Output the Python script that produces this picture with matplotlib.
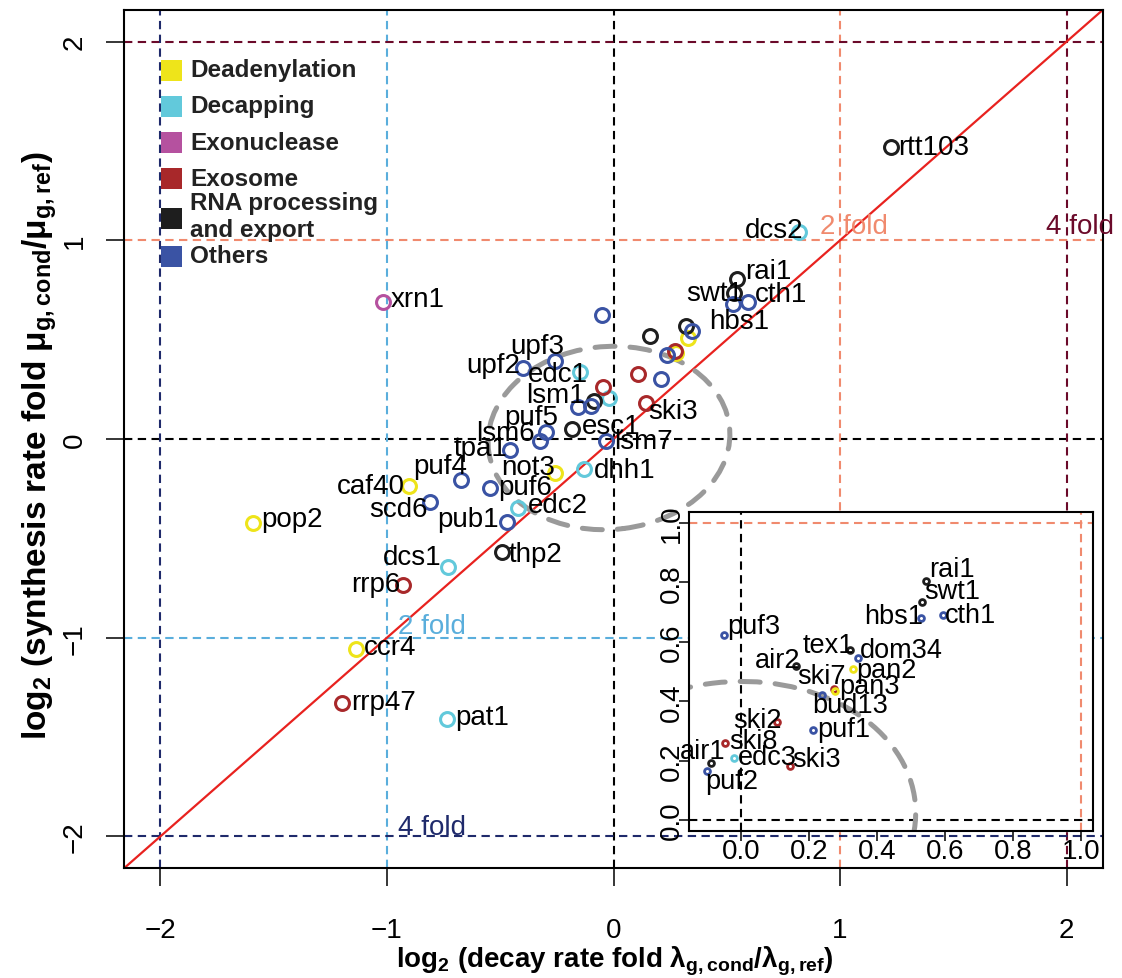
import matplotlib
matplotlib.use('Agg')
import matplotlib.pyplot as plt
from matplotlib.patches import Ellipse, Rectangle
from matplotlib.transforms import Affine2D

plt.rcParams['font.family'] = ['Liberation Sans', 'DejaVu Sans']
plt.rcParams['mathtext.fontset'] = 'custom'
plt.rcParams['mathtext.rm'] = 'Liberation Sans:bold'
plt.rcParams['mathtext.default'] = 'rm'

# log2 fold changes per gene (decay, synthesis) and functional group
genes = ['xrn1', 'upf3', 'upf2', 'edc1', 'lsm1', 'esc1', 'puf5', 'lsm6', 'lsm7', 'tpa1',
         'not3', 'dhh1', 'puf4', 'puf6', 'caf40', 'scd6', 'edc2', 'pub1', 'thp2', 'dcs1',
         'pop2', 'rrp6', 'ccr4', 'rrp47', 'pat1', 'rtt103', 'dcs2', 'rai1', 'swt1', 'hbs1',
         'cth1', 'puf3', 'tex1', 'dom34', 'pan2', 'air2', 'ski7', 'pan3', 'bud13', 'puf1',
         'ski2', 'ski8', 'edc3', 'ski3', 'air1', 'puf2']
decay_fold = [-1.017, -0.259, -0.399, -0.149, -0.156, -0.185, -0.296, -0.325, -0.031, -0.458,
              -0.259, -0.130, -0.674, -0.546, -0.904, -0.811, -0.421, -0.472, -0.494, -0.730,
              -1.591, -0.929, -1.135, -1.198, -0.733, 1.224, 0.818, 0.545, 0.532, 0.528,
              0.595, -0.049, 0.320, 0.345, 0.328, 0.162, 0.273, 0.277, 0.238, 0.211,
              0.107, -0.048, -0.020, 0.144, -0.088, -0.100]
synth_fold = [0.689, 0.394, 0.356, 0.336, 0.160, 0.050, 0.034, -0.008, -0.008, -0.054,
              -0.171, -0.153, -0.207, -0.249, -0.235, -0.316, -0.349, -0.420, -0.568, -0.646,
              -0.425, -0.735, -1.058, -1.327, -1.407, 1.468, 1.039, 0.806, 0.733, 0.680,
              0.690, 0.623, 0.571, 0.545, 0.510, 0.517, 0.442, 0.433, 0.421, 0.303,
              0.329, 0.260, 0.208, 0.183, 0.193, 0.165]
group = ['Exonuclease', 'Others', 'Others', 'Decapping', 'Others', 'RNA', 'Others', 'Others', 'Others', 'Others',
         'Deadenylation', 'Decapping', 'Others', 'Others', 'Deadenylation', 'Others', 'Decapping', 'Others', 'RNA', 'Decapping',
         'Deadenylation', 'Exosome', 'Deadenylation', 'Exosome', 'Decapping', 'RNA', 'Decapping', 'RNA', 'RNA', 'Others',
         'Others', 'Others', 'RNA', 'Others', 'Deadenylation', 'RNA', 'Exosome', 'Deadenylation', 'Others', 'Others',
         'Exosome', 'Exosome', 'Decapping', 'Exosome', 'RNA', 'Others']

group_keys = ['Deadenylation', 'Decapping', 'Exonuclease', 'Exosome', 'RNA', 'Others']
group_labels = ['Deadenylation', 'Decapping', 'Exonuclease', 'Exosome',
                'RNA processing\nand export', 'Others']
group_colors = ['#EEE41A', '#62C9DB', '#B5519F', '#A8282A', '#1E1E1E', '#3A53A4']

# genes shown in the zoomed panel
inset_genes = ['rai1', 'swt1', 'hbs1', 'cth1', 'puf3', 'tex1', 'dom34', 'air2', 'pan2', 'ski7',
               'pan3', 'bud13', 'puf1', 'ski2', 'ski8', 'edc3', 'ski3', 'air1', 'puf2']

# label placement: alignment and offset (pixels, up positive) from the point
main_lab = {
    'xrn1': ('left', 8, 3), 'upf3': ('center', -18, 15), 'upf2': ('right', -3, 3),
    'edc1': ('right', 8, -2), 'lsm1': ('right', 7, 12), 'esc1': ('left', 10, 3),
    'puf5': ('right', 12, 15), 'lsm6': ('right', -5, 8), 'lsm7': ('left', 8, 0),
    'tpa1': ('right', -2, 2), 'not3': ('right', 0, 6), 'dhh1': ('left', 10, -1),
    'puf4': ('right', 6, 14), 'puf6': ('left', 8, 1), 'caf40': ('right', -4, 0),
    'scd6': ('right', -2, -7), 'edc2': ('left', 10, 3), 'pub1': ('right', -8, 3),
    'thp2': ('left', 7, -2), 'dcs1': ('right', -7, 10), 'pop2': ('left', 8, 4),
    'rrp6': ('right', -3, 1), 'ccr4': ('left', 8, 2), 'rrp47': ('left', 9, 1),
    'pat1': ('left', 8, 2), 'rtt103': ('left', 7, 0), 'dcs2': ('right', 4, 2),
    'rai1': ('left', 8, 8), 'swt1': ('right', 9, 0), 'cth1': ('left', 7, 8),
    'hbs1': ('center', 6, -17), 'ski3': ('left', 2, -8),
}
inset_lab = {
    'rai1': ('left', 3, 12), 'swt1': ('left', 2, 11), 'hbs1': ('right', 3, 2),
    'cth1': ('left', 2, 0), 'puf3': ('left', 3, 9), 'tex1': ('right', 4, 5),
    'dom34': ('left', 2, 8), 'air2': ('right', 4, 6), 'pan2': ('left', 4, -1),
    'ski7': ('right', 12, 13), 'pan3': ('left', 4, 5), 'bud13': ('center', 28, -10),
    'puf1': ('left', 4, 1), 'ski2': ('right', 4, 2), 'ski8': ('left', 4, 2),
    'edc3': ('left', 4, 1), 'ski3': ('left', 2, 7), 'air1': ('right', 14, 12),
    'puf2': ('center', 25, -10),
}

W, H = 1122, 979
PX = 0.72  # points per pixel at dpi 100

fig = plt.figure(figsize=(W / 100, H / 100), dpi=100)
ax = fig.add_axes([124 / W, 1 - 869.3 / H, 979 / W, 858.6 / H])

dash = (0, (4, 2.6))
col_of = dict(zip(group_keys, group_colors))


def guides(a, with_four=True):
    a.axvline(0, color='black', lw=1.5, ls=dash, zorder=1)
    a.axhline(0, color='black', lw=1.5, ls=dash, zorder=1)
    for v, c in [(1, '#F08A6E'), (-1, '#5AAEDC'), (2, '#6B0A2A'), (-2, '#1F2A6B')]:
        if not with_four and abs(v) != 1:
            continue
        a.axvline(v, color=c, lw=1.5, ls=dash, zorder=1)
        a.axhline(v, color=c, lw=1.5, ls=dash, zorder=1)


guides(ax)
ax.plot([-2.16, 2.16], [-2.16, 2.16], color='#E8221F', lw=1.6, zorder=2)
ax.add_patch(Ellipse((-0.02, 0.005), 1.07, 0.92, angle=8, fill=False, ec='#9A9A9A',
                     lw=3.6, ls=(0, (4, 3)), capstyle='round', zorder=2))

for k, c in zip(group_keys, group_colors):
    xs = [decay_fold[i] for i in range(len(genes)) if group[i] == k]
    ys = [synth_fold[i] for i in range(len(genes)) if group[i] == k]
    ax.plot(xs, ys, 'o', mfc='none', mec=c, ms=10, mew=2.2, zorder=3)

for i, g in enumerate(genes):
    if g in main_lab:
        ha, dx, dy = main_lab[g]
        ax.annotate(g, (decay_fold[i], synth_fold[i]), xytext=(dx * PX, dy * PX),
                    textcoords='offset points', ha=ha, va='center', fontsize=20, zorder=4)

ax.text(1.06, 1.07, '2 fold', color='#F08A6E', fontsize=20, ha='center', va='center')
ax.text(2.06, 1.07, '4 fold', color='#6B0A2A', fontsize=20, ha='center', va='center', clip_on=False)
ax.text(-0.80, -0.94, '2 fold', color='#5AAEDC', fontsize=20, ha='center', va='center')
ax.text(-0.80, -1.95, '4 fold', color='#1F2A6B', fontsize=20, ha='center', va='center')

ax.set_xlim(-2.16, 2.16)
ax.set_ylim(-2.16, 2.16)
ax.set_xticks([-2, -1, 0, 1, 2])
ax.set_yticks([-2, -1, 0, 1, 2])
ax.set_xticklabels(['\u22122', '\u22121', '0', '1', '2'])
ax.set_yticklabels(['\u22122', '\u22121', '0', '1', '2'])
ax.tick_params(length=13, width=1.1, labelsize=20)
ax.tick_params(axis='x', pad=22)
ax.tick_params(axis='y', pad=13, labelrotation=90)
for lbl in ax.get_yticklabels():
    lbl.set_va('center')
for s in ax.spines.values():
    s.set_linewidth(1.5)

fig.text(615 / W, 1 - 961 / H, r'log$_2$ (decay rate fold λ$_{g,cond}$/λ$_{g,ref}$)',
         fontsize=20, fontweight='bold', ha='center', va='center')
fig.text(40 / W, 1 - 445 / H, r'log$_2$ (synthesis rate fold μ$_{g,cond}$/μ$_{g,ref}$)',
         fontsize=24, fontweight='bold', ha='center', va='center', rotation=90)

# legend in pixel coordinates (origin top left)
px = Affine2D().scale(1 / W, -1 / H).translate(0, 1) + fig.transFigure
sq_y = [71.7, 107, 143.7, 179.7, 219, 257]
txt_y = [70, 106.7, 144, 180, 217, 256.7]
for lab, c, sy, ty in zip(group_labels, group_colors, sq_y, txt_y):
    fig.patches.append(Rectangle((161, sy - 10.5), 21, 21, transform=px, fc=c, ec='none', zorder=5))
    fig.text(190, ty, lab, transform=px, fontsize=17.5, fontweight='bold', color='#222222',
             ha='left', va='center', linespacing=1.2)

# zoomed panel
ins = fig.add_axes([689 / W, 1 - 832 / H, 404 / W, 319 / H])
ins.set_facecolor('white')
guides(ins, with_four=False)
ins.add_patch(Ellipse((-0.02, 0.005), 1.07, 0.92, angle=8, fill=False, ec='#9A9A9A',
                      lw=3.6, ls=(0, (4, 3)), capstyle='round', zorder=2))
for i, g in enumerate(genes):
    if g in inset_genes:
        ins.plot(decay_fold[i], synth_fold[i], 'o', mfc='none', mec=col_of[group[i]],
                 ms=4.2, mew=2.0, zorder=3)
        ha, dx, dy = inset_lab[g]
        ins.annotate(g, (decay_fold[i], synth_fold[i]), xytext=(dx * PX, dy * PX),
                     textcoords='offset points', ha=ha, va='center', fontsize=19.5, zorder=4)
ins.set_xlim(-0.153, 1.035)
ins.set_ylim(-0.037, 1.037)
ins.set_xticks([0, 0.2, 0.4, 0.6, 0.8, 1.0])
ins.set_yticks([0, 0.2, 0.4, 0.6, 0.8, 1.0])
ins.set_xticklabels(['0.0', '0.2', '0.4', '0.6', '0.8', '1.0'])
ins.set_yticklabels(['0.0', '0.2', '0.4', '0.6', '0.8', '1.0'])
ins.tick_params(length=7, width=1.1, labelsize=20)
ins.tick_params(axis='x', pad=-2)
ins.tick_params(axis='y', pad=-4, labelrotation=90)
for lbl in ins.get_yticklabels():
    lbl.set_va('center')
for s in ins.spines.values():
    s.set_linewidth(1.5)

fig.savefig('out.png', dpi=100)
